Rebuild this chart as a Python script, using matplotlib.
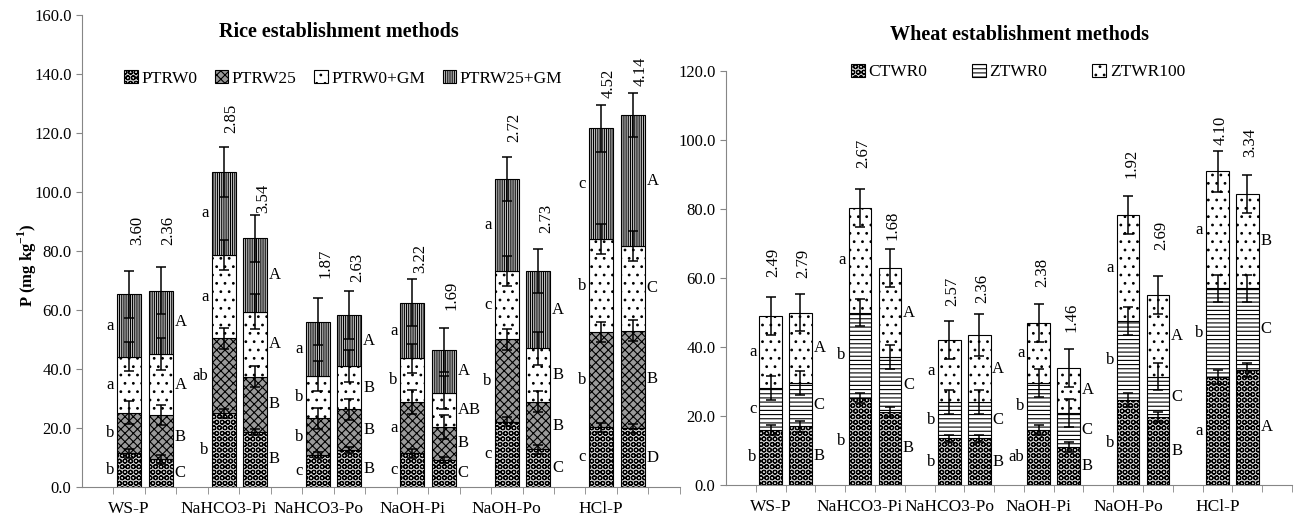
import numpy as np
import matplotlib
matplotlib.use("Agg")
import matplotlib.pyplot as plt
from matplotlib.patches import Patch

plt.rcParams['font.family'] = ['Liberation Serif', 'DejaVu Serif']
plt.rcParams['mathtext.fontset'] = 'custom'
plt.rcParams['mathtext.rm'] = 'Liberation Serif'
plt.rcParams['mathtext.bf'] = 'Liberation Serif:bold'
plt.rcParams['hatch.linewidth'] = 0.8

groups = ['WS-P', 'NaHCO3-Pi', 'NaHCO3-Po', 'NaOH-Pi', 'NaOH-Po', 'HCl-P']

# rice: two bars per fraction, stacked segments (mg/kg)
rice_names = ['PTRW0', 'PTRW25', 'PTRW0+GM', 'PTRW25+GM']
ptrw0 = [11.4, 9.4, 25.0, 18.7, 10.8, 12.5, 11.4, 9.2, 22.1, 12.8, 20.2, 19.9]
ptrw25 = [13.8, 15.0, 25.4, 18.7, 12.5, 13.8, 17.5, 11.2, 28.0, 16.1, 32.4, 33.1]
ptrw0_gm = [19.0, 20.7, 28.2, 22.0, 14.3, 14.7, 14.7, 11.6, 23.2, 18.1, 31.4, 28.7]
ptrw25_gm = [21.1, 21.4, 28.3, 24.9, 18.4, 17.3, 18.9, 14.4, 31.0, 26.3, 37.6, 44.4]
ptrw0_err = [1.5, 1.5, 1.5, 1.0, 1.0, 1.0, 1.5, 1.0, 1.5, 1.5, 1.5, 1.5]
ptrw25_err = [4.0, 3.5, 3.5, 3.5, 3.5, 3.5, 4.0, 4.0, 3.5, 3.5, 3.5, 3.5]
ptrw0_gm_err = [5.0, 5.5, 5.0, 6.0, 5.0, 5.5, 5.0, 5.5, 5.0, 5.5, 5.0, 5.0]
ptrw25_gm_err = [8.0, 8.0, 8.5, 8.0, 8.0, 8.0, 8.0, 7.5, 7.5, 7.5, 8.0, 7.5]
rice_notes = ['3.60', '2.36', '2.85', '3.54', '1.87', '2.63',
              '3.22', '1.69', '2.72', '2.73', '4.52', '4.14']
rice_note_y = [82, 82, 120, 93, 70.8, 69.5, 72.5, 60, 117, 86, 132, 136]
# letters per fraction, bottom segment first
rice_low = [['b', 'b', 'a', 'a'], ['b', 'ab', 'a', 'a'], ['c', 'b', 'b', 'a'],
            ['c', 'a', 'b', 'a'], ['c', 'b', 'c', 'a'], ['c', 'b', 'b', 'c']]
rice_up = [['C', 'B', 'A', 'A'], ['B', 'B', 'A', 'A'], ['B', 'B', 'B', 'A'],
           ['C', 'B', 'AB', 'A'], ['C', 'B', 'B', 'A'], ['D', 'B', 'C', 'A']]

# wheat
wheat_names = ['CTWR0', 'ZTWR0', 'ZTWR100']
ctwr0 = [16.0, 17.0, 25.3, 21.2, 13.6, 13.6, 16.0, 11.0, 24.6, 19.8, 31.4, 33.4]
ztwr0 = [12.0, 12.5, 24.7, 15.8, 10.4, 10.4, 13.6, 9.8, 23.0, 11.6, 25.6, 23.6]
ztwr100 = [21.0, 20.5, 30.4, 26.0, 18.0, 19.5, 17.4, 13.2, 30.8, 23.6, 33.9, 27.3]
ctwr0_err = [1.5, 1.5, 1.5, 1.5, 1.0, 1.0, 1.5, 1.5, 2.0, 1.5, 2.0, 2.0]
ztwr0_err = [3.5, 3.5, 4.0, 3.5, 3.5, 3.5, 4.0, 4.0, 4.0, 4.0, 4.0, 4.0]
ztwr100_err = [5.5, 5.5, 5.5, 5.5, 5.5, 6.0, 5.5, 5.5, 5.5, 5.5, 6.0, 5.5]
wheat_notes = ['2.49', '2.79', '2.67', '1.68', '2.57', '2.36',
               '2.38', '1.46', '1.92', '2.69', '4.10', '3.34']
wheat_note_y = [60.3, 60, 92, 71, 52, 52.7, 57.4, 44.3, 89, 68, 98.5, 95]
wheat_low = [['b', 'c', 'a'], ['b', 'b', 'a'], ['b', 'b', 'a'],
             ['ab', 'b', 'a'], ['b', 'b', 'a'], ['a', 'b', 'a']]
wheat_up = [['B', 'C', 'A'], ['B', 'C', 'A'], ['B', 'C', 'A'],
            ['B', 'C', 'A'], ['B', 'C', 'A'], ['A', 'C', 'B']]

GRAY = '#868686'
FS = 12


def draw_panel(ax, series, errs, styles, names, notes, note_y, low, up,
               ymax, note_dx):
    n = len(series[0])
    x = np.array([3 * (i // 2) + 1.5 + (i % 2) for i in range(n)])
    w = 0.76
    bottom = np.zeros(n)
    handles = []
    tops = []
    for vals, (fc, hatch), name in zip(series, styles, names):
        vals = np.array(vals)
        ax.bar(x, vals, w, bottom=bottom, color=fc, edgecolor='black',
               hatch=hatch, linewidth=0.8, zorder=2)
        mids = bottom + vals / 2
        for i in range(n):
            g = i // 2
            k = len(tops)
            if i % 2 == 0:
                ax.text(x[i] - w / 2 - 0.1, mids[i], low[g][k], ha='right',
                        va='center', fontsize=FS)
            else:
                ax.text(x[i] + w / 2 + 0.06, mids[i], up[g][k], ha='left',
                        va='center', fontsize=FS)
        bottom = bottom + vals
        tops.append(bottom.copy())
        handles.append(Patch(facecolor=fc, edgecolor='black', hatch=hatch,
                             linewidth=0.8, label=name))
    for top, err in zip(tops, errs):
        ax.errorbar(x, top, yerr=err, fmt='none', ecolor='black',
                    elinewidth=1.1, capsize=3.5, capthick=1.1, zorder=3)
    for xi, s, yy in zip(x, notes, note_y):
        ax.text(xi + note_dx, yy, s, rotation=90, ha='center', va='bottom',
                fontsize=FS)

    ax.set_xlim(0, 19)
    ax.set_ylim(0, ymax)
    ax.set_yticks(np.arange(0, ymax + 1, 20))
    ax.yaxis.set_major_formatter(plt.FuncFormatter(lambda v, p: f'{v:.1f}'))
    ax.set_xticks([3 * g + 1.5 for g in range(len(groups))])
    ax.set_xticklabels(groups, fontsize=12.5)
    ax.set_xticks(np.arange(1, 20), minor=True)
    ax.tick_params(axis='x', which='major', length=0, pad=10)
    ax.tick_params(axis='x', which='minor', length=5, color=GRAY)
    ax.tick_params(axis='y', length=4, color=GRAY, labelsize=FS)
    for s in ['top', 'right']:
        ax.spines[s].set_visible(False)
    for s in ['left', 'bottom']:
        ax.spines[s].set_color(GRAY)
    return handles


fig = plt.figure(figsize=(12.95, 5.18), dpi=100)
ax1 = fig.add_axes([0.0633, 0.0598, 0.4617, 0.9112])
ax2 = fig.add_axes([0.5606, 0.0637, 0.4371, 0.7992])

rice_styles = [('#d0d0d0', 'OOO'), ('#9a9a9a', 'xxxx'), ('white', '..'),
               ('white', '|||||||||')]
wheat_styles = [('#d0d0d0', 'OOO'), ('white', '----'), ('white', '..')]

h1 = draw_panel(ax1, [ptrw0, ptrw25, ptrw0_gm, ptrw25_gm],
                [ptrw0_err, ptrw25_err, ptrw0_gm_err, ptrw25_gm_err],
                rice_styles, rice_names, rice_notes, rice_note_y,
                rice_low, rice_up, 160, 0.25)
h2 = draw_panel(ax2, [ctwr0, ztwr0, ztwr100],
                [ctwr0_err, ztwr0_err, ztwr100_err],
                wheat_styles, wheat_names, wheat_notes, wheat_note_y,
                wheat_low, wheat_up, 120, 0.1)

ax1.set_ylabel(r'P (mg kg$^{\mathbf{-1}}$)', fontsize=FS, fontweight='bold')
ax1.yaxis.set_label_coords(-0.072, 0.47)

fig.text(0.262, 0.938, 'Rice establishment methods', ha='center',
         va='center', fontsize=14.5, fontweight='bold')
fig.text(0.787, 0.932, 'Wheat establishment methods', ha='center',
         va='center', fontsize=14.5, fontweight='bold')

fig.legend(handles=h1, loc='center', bbox_to_anchor=(0.265, 0.849), ncol=4,
           frameon=False, fontsize=12.5, handlelength=0.8, handleheight=0.8,
           handletextpad=0.2, columnspacing=1.0)
fig.legend(handles=h2, loc='center', bbox_to_anchor=(0.786, 0.861), ncol=3,
           frameon=False, fontsize=12.5, handlelength=0.8, handleheight=0.8,
           handletextpad=0.2, columnspacing=2.6)

fig.savefig('out.png', dpi=100)
